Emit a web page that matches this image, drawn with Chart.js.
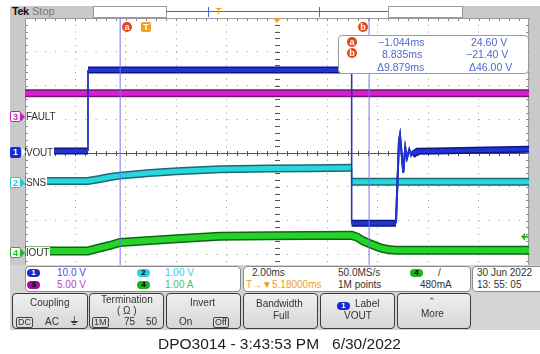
<!DOCTYPE html>
<html>
<head>
<meta charset="utf-8">
<script src="https://cdn.jsdelivr.net/npm/chart.js@4.4.0/dist/chart.umd.min.js"></script>
<style>
  body { margin: 0; width: 540px; height: 354px; position: relative; overflow: hidden; background: #fff;
         font-family: 'Liberation Sans', Arial, sans-serif; color: #333; }
  .abs { position: absolute; }
  .gray { background: #c9c9c9; }
  .wbox { background: #fff; border: 1px solid #9a9a9a; box-sizing: border-box; }
  .chmark { position: absolute; left: 10px; width: 11px; height: 11px; font-size: 9px; line-height: 11px;
            text-align: center; box-sizing: border-box; border-radius: 2px; font-weight: bold; }
  .chmark:after { content: ''; position: absolute; right: -5px; top: 1px; border-left: 4px solid currentColor;
                  border-top: 4px solid transparent; border-bottom: 4px solid transparent; }
  .chlabel { position: absolute; left: 26px; font-size: 10px; line-height: 11px; background: #fff; color: #333;
             padding-right: 1px; letter-spacing: -0.2px; }
  .circ { position: absolute; width: 10px; height: 10px; border-radius: 50%; background: #e4461c; color: #fff;
          font-size: 9px; line-height: 10px; text-align: center; font-weight: bold; }
  .rd { position: absolute; font-size: 10.5px; color: #4d68cf; white-space: nowrap; }
  .pnl { position: absolute; background: #fff; border: 1px solid #8a8a8a; border-radius: 4px; box-sizing: border-box; }
  .pt { position: absolute; font-size: 10px; white-space: nowrap; }
  .badge { position: absolute; width: 13px; height: 8px; border-radius: 4px; font-size: 8px; line-height: 8px;
           text-align: center; font-weight: bold; color: #000; }
  .btn { position: absolute; top: 293px; height: 36px; border: 1.5px solid #3c3c3c; border-radius: 4px;
         box-sizing: border-box; background: linear-gradient(#f0f0f0, #d6d6d6); }
  .bt { position: absolute; font-size: 10px; color: #333; white-space: nowrap; }
  .boxed { border: 1px solid #444; border-radius: 2px; padding: 0 1px; line-height: 9px; font-size: 9px; }
</style>
</head>
<body>
<!-- bezel -->
<div class="abs gray" style="left:10px;top:6px;width:83px;height:12px"></div>
<div class="abs gray" style="left:10px;top:18px;width:15px;height:248px"></div>
<div class="abs gray" style="left:462px;top:6px;width:78px;height:12px"></div>
<div class="abs gray" style="left:529px;top:18px;width:11px;height:248px"></div>
<div class="abs wbox" style="left:93px;top:6px;width:74px;height:12px"></div>
<div class="abs wbox" style="left:388px;top:6px;width:75px;height:12px"></div>
<div class="abs" style="left:166px;top:11px;width:222px;height:1px;background:#4a62e0"></div>
<div class="abs" style="left:208px;top:7px;width:1px;height:10px;background:#4a62e0"></div>
<div class="abs" style="left:319px;top:7px;width:1px;height:10px;background:#4a62e0"></div>
<div class="abs" style="left:216px;top:6px;font-size:9px;font-weight:bold;color:#f0a020">T</div>
<div class="abs" style="left:12px;top:5px;font-size:11px;font-weight:bold;color:#111;letter-spacing:-0.5px">Tek</div>
<div class="abs" style="left:32px;top:5px;font-size:11px;color:#777">Stop</div>

<canvas id="scope" width="540" height="354" style="position:absolute;left:0;top:0"></canvas>

<!-- graticule markers -->
<div class="abs" style="left:273px;top:18px;border-top:5px solid #f0a020;border-left:4px solid transparent;border-right:4px solid transparent"></div>
<div class="circ" style="left:122px;top:22px">a</div>
<div class="abs" style="left:141px;top:22px;width:10px;height:10px;border-radius:2px;background:#f0a020;color:#fff;font-size:9px;line-height:10px;text-align:center;font-weight:bold">T</div>
<div class="circ" style="left:358px;top:22px">b</div>

<div class="abs" style="left:338px;top:35px;width:191px;height:39px;background:#fff;border:1px solid #9a9a9a;border-radius:4px;box-sizing:border-box"></div>
<div class="circ" style="left:347px;top:37px">a</div>
<div class="circ" style="left:347px;top:48px">b</div>
<div class="rd" style="left:378px;top:36px">−1.044ms</div>
<div class="rd" style="left:471px;top:36px">24.60 V</div>
<div class="rd" style="left:382px;top:48px">8.835ms</div>
<div class="rd" style="left:466px;top:48px">−21.40 V</div>
<div class="rd" style="left:377px;top:61px">Δ9.879ms</div>
<div class="rd" style="left:469px;top:61px">Δ46.00 V</div>

<!-- channel ground markers -->
<div class="chmark" style="top:111px;background:#fff;border:1px solid #c41cc0;color:#c41cc0">3</div>
<div class="chlabel" style="top:111px">FAULT</div>
<div class="chmark" style="top:147px;background:#1a2ad0;color:#fff">1</div>
<div class="chlabel" style="top:147px">VOUT</div>
<div class="chmark" style="top:177px;background:#fff;border:1px solid #22c8d4;color:#22c8d4">2</div>
<div class="chlabel" style="top:177px">SNS</div>
<div class="chmark" style="top:247px;background:#fff;border:1px solid #22b828;color:#22b828">4</div>
<div class="chlabel" style="top:247px">IOUT</div>

<!-- readout panel -->
<div class="abs gray" style="left:10px;top:265px;width:530px;height:65px;background:#d4d4d4"></div>
<div class="pnl" style="left:25px;top:266px;width:216px;height:26px"></div>
<div class="badge" style="left:27px;top:269px;background:#1a2ad0;color:#fff">1</div>
<div class="pt" style="left:57px;top:267px;color:#4a4ae0">10.0 V</div>
<div class="badge" style="left:137px;top:269px;background:#2ad0dc">2</div>
<div class="pt" style="left:165px;top:267px;color:#3cd0e0">1.00 V</div>
<div class="badge" style="left:27px;top:281px;background:#a0109c">3</div>
<div class="pt" style="left:57px;top:279px;color:#c040c8">5.00 V</div>
<div class="badge" style="left:137px;top:281px;background:#1eb020">4</div>
<div class="pt" style="left:165px;top:279px;color:#50c050">1.00 A</div>

<div class="pnl" style="left:243px;top:266px;width:228px;height:26px"></div>
<div class="pt" style="left:252px;top:267px;color:#333">2.00ms</div>
<div class="pt" style="left:338px;top:267px;color:#333">50.0MS/s</div>
<div class="badge" style="left:410px;top:269px;background:#1eb020">4</div>
<div class="pt" style="left:438px;top:267px;color:#333">/</div>
<div class="pt" style="left:246px;top:279px;color:#f0a020">T→▼5.18000ms</div>
<div class="pt" style="left:338px;top:279px;color:#333">1M points</div>
<div class="pt" style="left:420px;top:279px;color:#333">480mA</div>

<div class="pnl" style="left:472px;top:266px;width:80px;height:26px"></div>
<div class="pt" style="left:477px;top:267px;color:#333">30 Jun 2022</div>
<div class="pt" style="left:477px;top:279px;color:#333">13: 55: 05</div>

<!-- soft buttons -->
<div class="btn" style="left:12px;width:76px"></div>
<div class="bt" style="left:30px;top:297px">Coupling</div>
<div class="bt boxed" style="left:16px;top:317px">DC</div>
<div class="bt" style="left:45px;top:316px">AC</div>
<div class="bt" style="left:70px;top:314px;font-size:12px">⏚</div>

<div class="btn" style="left:89px;width:75px"></div>
<div class="bt" style="left:101px;top:294px">Termination</div>
<div class="bt" style="left:117px;top:305px">( Ω )</div>
<div class="bt boxed" style="left:92px;top:317px">1M</div>
<div class="bt" style="left:124px;top:316px">75</div>
<div class="bt" style="left:146px;top:316px">50</div>

<div class="btn" style="left:166px;width:75px"></div>
<div class="bt" style="left:190px;top:297px">Invert</div>
<div class="bt" style="left:179px;top:316px">On</div>
<div class="bt boxed" style="left:213px;top:317px">Off</div>

<div class="btn" style="left:243px;width:75px"></div>
<div class="bt" style="left:256px;top:298px">Bandwidth</div>
<div class="bt" style="left:273px;top:310px">Full</div>

<div class="btn" style="left:320px;width:75px"></div>
<div class="badge" style="left:337px;top:302px;background:#1a2ad0;color:#fff">1</div>
<div class="bt" style="left:355px;top:298px">Label</div>
<div class="bt" style="left:344px;top:310px">VOUT</div>

<div class="btn" style="left:397px;width:74px"></div>
<div class="bt" style="left:428px;top:296px;font-size:9px">⌃</div>
<div class="bt" style="left:421px;top:308px">More</div>

<div class="abs" style="left:158px;top:335px;font-size:15.5px;color:#222;white-space:nowrap">DPO3014 - 3:43:53 PM&nbsp;&nbsp;&nbsp;6/30/2022</div>

<script>
// Horizontal: 2 ms/div, 10 divisions, screen centre at +5.18 ms
const msPerDiv = 2.0;
const horizPos = 5.18;
const gridTimes = [-4.82, -2.82, -0.82, 1.18, 3.18, 5.18, 7.18, 9.18, 11.18, 13.18, 15.18];

// Vertical settings per channel: units/div and ground position (divs from centre)
const ch1 = { perDiv: 10, ground: 0 };      // VOUT  10.0 V
const ch2 = { perDiv: 1, ground: -0.89 };   // SNS   1.00 V
const ch3 = { perDiv: 5, ground: 1.07 };    // FAULT 5.00 V
const ch4 = { perDiv: 1, ground: -2.96 };   // IOUT  1.00 A

// CH1 VOUT (V)
const voutTime = [-4.82, -2.32, -2.32, 8.14, 8.14, 9.90, 10.02, 10.06, 10.10, 10.19, 10.27, 10.34, 10.43, 10.50, 10.58, 10.66, 10.76, 11.5, 13.5, 15.18];
const voutVolts = [0.6, 0.6, 24.6, 24.6, -20.8, -20.8, 3.5, 5.3, 2.0, -5.8, 1.6, -1.5, 1.0, -0.6, 0.7, 0.0, 0.5, 0.6, 0.9, 1.1];

// CH3 FAULT (V)
const faultTime = [-4.82, 15.18];
const faultVolts = [3.5, 3.5];

// CH2 SNS (V)
const snsTime = [-4.82, -2.32, -1.85, -1.45, -1.05, 0.13, 1.2, 2.9, 4.9, 6.5, 8.14, 8.14, 15.18];
const snsVolts = [0.06, 0.06, 0.12, 0.18, 0.22, 0.30, 0.35, 0.41, 0.43, 0.44, 0.45, 0.04, 0.04];

// CH4 IOUT (A)
const ioutTime = [-4.82, -2.32, -1.85, -1.45, -1.05, 0.13, 1.2, 2.9, 4.9, 8.14, 8.35, 8.59, 8.87, 9.14, 9.38, 9.66, 9.9, 15.18];
const ioutAmps = [0.06, 0.06, 0.15, 0.22, 0.31, 0.37, 0.42, 0.49, 0.51, 0.52, 0.47, 0.36, 0.27, 0.19, 0.13, 0.09, 0.08, 0.08];

// cursors and trigger
const cursorTimes = [-1.044, 8.835];
const trigLevel = 0.48;

function pts(t, v) {
    return t.map((x, i) => ({ x: x, y: v[i] }));
}

function chAxis(ch) {
    return { type: 'linear', display: false, min: (-4 - ch.ground) * ch.perDiv, max: (4 - ch.ground) * ch.perDiv };
}

// thin line on edges, fat band on flat parts
function segWidth(fat) {
    return ctx => {
        const dx = Math.abs(ctx.p1.x - ctx.p0.x);
        const dy = Math.abs(ctx.p1.y - ctx.p0.y);
        if (dx < 0.5) return 1.3;
        if (dy > dx * 2) return 2;
        return fat;
    };
}

function trace(data, axis, color, width, order) {
    return {
        data: data, yAxisID: axis, borderColor: color, borderWidth: width, order: order,
        pointRadius: 0, tension: 0, fill: false,
        segment: { borderWidth: segWidth(width) }
    };
}

function cursor(t) {
    return {
        data: [{ x: t, y: -40 }, { x: t, y: 40 }], yAxisID: 'y', borderColor: '#7474f4', borderWidth: 1,
        pointRadius: 0, order: 0
    };
}

// Graticule: centre cross, frame and tick marks
const graticule = {
    id: 'graticule',
    beforeDatasetsDraw(chart) {
        const { ctx, chartArea: a } = chart;
        const dx = (a.right - a.left) / 50;
        const dy = (a.bottom - a.top) / 40;
        const cx = chart.scales.x.getPixelForValue(horizPos);
        const cy = chart.scales.y.getPixelForValue(0);
        ctx.save();
        ctx.strokeStyle = '#555';
        ctx.lineWidth = 1;
        ctx.beginPath();
        ctx.moveTo(a.left, Math.round(cy) + 0.5);
        ctx.lineTo(a.right, Math.round(cy) + 0.5);
        for (let i = 1; i < 50; i++) {
            const x = Math.round(a.left + i * dx) + 0.5;
            ctx.moveTo(x, cy - 2); ctx.lineTo(x, cy + 3);
        }
        for (let i = 1; i < 40; i++) {
            const y = Math.round(a.top + i * dy) + 0.5;
            ctx.moveTo(cx - 2, y); ctx.lineTo(cx + 3, y);
        }
        ctx.stroke();
        // frame ticks
        ctx.strokeStyle = '#888';
        ctx.beginPath();
        for (let i = 1; i < 50; i++) {
            const x = Math.round(a.left + i * dx) + 0.5;
            ctx.moveTo(x, a.top); ctx.lineTo(x, a.top + 3);
        }
        for (let i = 1; i < 40; i++) {
            const y = Math.round(a.top + i * dy) + 0.5;
            ctx.moveTo(a.left, y); ctx.lineTo(a.left + 3, y);
            ctx.moveTo(a.right, y); ctx.lineTo(a.right - 3, y);
        }
        ctx.stroke();
        ctx.strokeStyle = '#999';
        ctx.strokeRect(a.left + 0.5, a.top + 0.5, a.right - a.left - 1, a.bottom - a.top);
        ctx.restore();
    },
    afterDatasetsDraw(chart) {
        const { ctx, chartArea: a } = chart;
        const y = chart.scales.y4.getPixelForValue(trigLevel);
        ctx.save();
        ctx.fillStyle = '#22b828';
        ctx.beginPath();
        ctx.moveTo(a.right - 8, y);
        ctx.lineTo(a.right - 4, y - 4);
        ctx.lineTo(a.right - 4, y + 4);
        ctx.closePath();
        ctx.fill();
        ctx.fillRect(a.right - 4, y - 1, 3, 2);
        ctx.restore();
    }
};

new Chart(document.getElementById('scope'), {
    type: 'line',
    data: {
        datasets: [
            cursor(cursorTimes[0]),
            cursor(cursorTimes[1]),
            trace(pts(voutTime, voutVolts), 'y', '#1f34d0', 4, 1),
            trace(pts(voutTime, voutVolts), 'y', '#0c1580', 7, 2),
            trace(pts(faultTime, faultVolts), 'y3', '#d81ed0', 5, 3),
            trace(pts(faultTime, faultVolts), 'y3', '#6e1a70', 8, 4),
            trace(pts(snsTime, snsVolts), 'y2', '#2ad6de', 5, 5),
            trace(pts(snsTime, snsVolts), 'y2', '#1b6a70', 8, 6),
            trace(pts(ioutTime, ioutAmps), 'y4', '#24d42a', 6, 7),
            trace(pts(ioutTime, ioutAmps), 'y4', '#0e6612', 9, 8)
        ]
    },
    options: {
        responsive: false,
        animation: false,
        devicePixelRatio: 1,
        layout: { padding: { left: 25, top: 18, right: 11, bottom: 66 } },
        plugins: { legend: { display: false }, tooltip: { enabled: false } },
        scales: {
            x: {
                type: 'linear',
                min: horizPos - 5 * msPerDiv,
                max: horizPos + 5 * msPerDiv,
                afterBuildTicks: s => { s.ticks = gridTimes.map(v => ({ value: v })); },
                afterFit: s => { s.height = 0; },
                ticks: { display: false },
                grid: { color: '#9a9a9a', lineWidth: 1, drawTicks: false },
                border: { display: false, dash: [1, 5.75] }
            },
            y: {
                type: 'linear',
                min: -4 * ch1.perDiv,
                max: 4 * ch1.perDiv,
                afterFit: s => { s.width = 0; },
                ticks: { display: false, stepSize: ch1.perDiv },
                grid: { color: '#9a9a9a', lineWidth: 1, drawTicks: false },
                border: { display: false, dash: [1, 9.08] }
            },
            y2: chAxis(ch2),
            y3: chAxis(ch3),
            y4: chAxis(ch4)
        }
    },
    plugins: [graticule]
});
</script>
</body>
</html>
